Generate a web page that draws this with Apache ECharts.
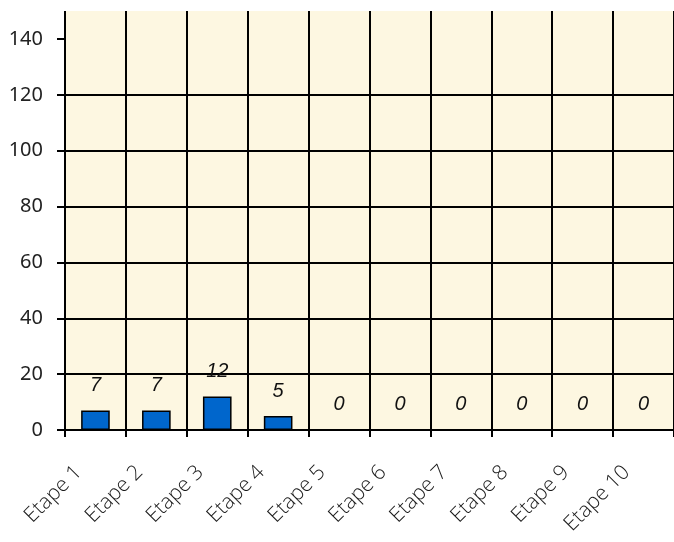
<!DOCTYPE html>
<html>
<head>
<meta charset="utf-8">
<style>html,body{margin:0;padding:0;background:#fff;}#c{width:674px;height:542px;}</style>
<script src="https://cdn.jsdelivr.net/npm/echarts@6/dist/echarts.min.js"></script>
</head>
<body>
<div id="c"></div>
<script>
const categories = ['Etape 1','Etape 2','Etape 3','Etape 4','Etape 5','Etape 6','Etape 7','Etape 8','Etape 9','Etape 10'];
const values = [7, 7, 12, 5, 0, 0, 0, 0, 0, 0];
const yTicks = [0, 20, 40, 60, 80, 100, 120, 140];

const chart = echarts.init(document.getElementById('c'), null, {renderer: 'canvas'});
chart.setOption({
  animation: false,
  backgroundColor: '#ffffff',
  grid: {left: 65, right: -1, top: 11, bottom: 112, show: true, backgroundColor: '#fdf7e1', borderWidth: 0},
  xAxis: {
    type: 'category',
    data: categories,
    boundaryGap: true,
    axisLine: {show: true, lineStyle: {color: '#000', width: 2}},
    axisTick: {show: true, length: 7, interval: 0, lineStyle: {color: '#000', width: 2}},
    splitLine: {show: true, interval: 0, lineStyle: {color: '#000', width: 2}},
    axisLabel: {
      interval: 0, rotate: 45, margin: 22, padding: [0, 24, 0, 0],
      fontFamily: 'Open Sans', fontWeight: 300, fontSize: 21, color: '#1a1a1a'
    }
  },
  yAxis: {
    type: 'value',
    min: 0, max: 150, interval: 20,
    axisLine: {show: false},
    axisTick: {show: true, length: 8, customValues: yTicks, lineStyle: {color: '#000', width: 2}},
    splitLine: {show: true, showMaxLine: false, lineStyle: {color: '#000', width: 2}},
    axisLabel: {
      customValues: yTicks, margin: 22,
      fontFamily: 'Noto Sans', fontSize: 20, color: '#222'
    }
  },
  series: [{
    type: 'bar',
    data: values,
    barWidth: '47%',
    itemStyle: {color: '#0066cc', borderColor: '#000', borderWidth: 1.5},
    label: {
      show: true, position: 'top', distance: 15,
      fontFamily: 'Liberation Sans', fontStyle: 'italic', fontSize: 20, color: '#111'
    }
  }]
});
</script>
</body>
</html>
